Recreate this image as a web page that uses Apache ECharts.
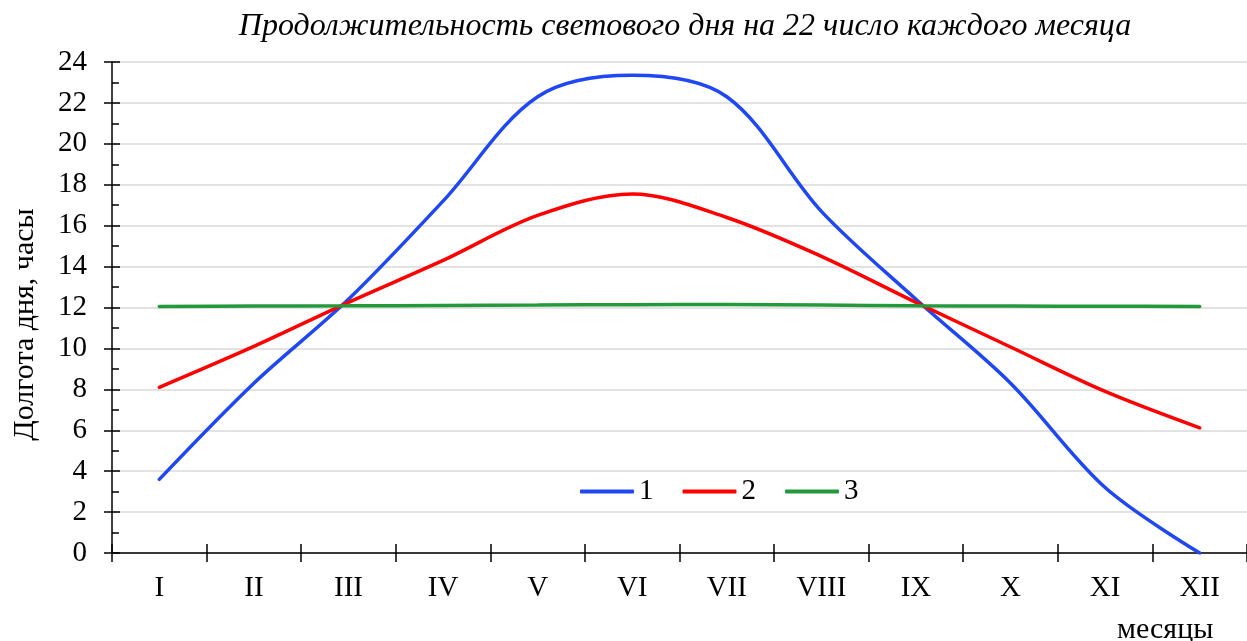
<!DOCTYPE html>
<html>
<head>
<meta charset="utf-8">
<script src="https://cdn.jsdelivr.net/npm/echarts@6/dist/echarts.min.js"></script>
<style>
  html, body { margin: 0; padding: 0; background: #fff; }
  #chart { width: 1247px; height: 641px; }
</style>
</head>
<body>
<div id="chart"></div>
<script>
const months = ['I', 'II', 'III', 'IV', 'V', 'VI', 'VII', 'VIII', 'IX', 'X', 'XI', 'XII'];
const line1 = [3.6, 8.3, 12.4, 17.2, 22.3, 23.35, 22.3, 16.7, 12.4, 8.3, 3.2, 0];
const line2 = [8.1, 10.1, 12.25, 14.3, 16.5, 17.55, 16.4, 14.5, 12.25, 10.07, 7.9, 6.12];
const line3 = [12.05, 12.07, 12.08, 12.1, 12.12, 12.14, 12.15, 12.12, 12.08, 12.07, 12.06, 12.05];
const seriesNames = ['1', '2', '3'];

const FONT = 'Liberation Serif';
const colors = ['#1f48f4', '#ff0000', '#24993c'];

const chart = echarts.init(document.getElementById('chart'));

const makeLine = (name, data, color) => ({
  name,
  type: 'line',
  data,
  smooth: 0.33,
  symbol: 'none',
  lineStyle: { color, width: 3.5, cap: 'round' },
  itemStyle: { color },
  xAxisIndex: 0,
  yAxisIndex: 0
});

const option = {
  animation: false,
  backgroundColor: '#fff',
  title: {
    text: 'Продолжительность светового дня на 22 число каждого месяца',
    left: 680,
    textAlign: 'center',
    top: 6,
    textStyle: { fontFamily: FONT, fontStyle: 'italic', fontWeight: 'normal', fontSize: 32, color: '#000' }
  },
  legend: {
    data: seriesNames,
    left: 575,
    top: 472,
    icon: 'roundRect',
    itemWidth: 54,
    itemHeight: 4,
    itemGap: 29,
    textStyle: { fontFamily: FONT, fontSize: 29, color: '#000' }
  },
  grid: { left: 112, right: 0, top: 62, bottom: 88 },
  xAxis: [
    {
      type: 'category',
      data: months,
      boundaryGap: true,
      position: 'bottom',
      axisLine: { lineStyle: { color: '#000', width: 1.5 } },
      axisTick: { show: true, length: 9, inside: false, lineStyle: { color: '#000', width: 1.5 } },
      axisLabel: { fontFamily: FONT, fontSize: 29, color: '#000', margin: 21 },
      splitLine: { show: false }
    },
    {
      // second copy only for the inner half of the crossing ticks
      type: 'category',
      data: months,
      boundaryGap: true,
      position: 'bottom',
      offset: 0,
      axisLine: { show: false },
      axisTick: { show: true, length: 9, inside: true, lineStyle: { color: '#000', width: 1.5 } },
      axisLabel: { show: false },
      splitLine: { show: false }
    }
  ],
  yAxis: [
    {
      type: 'value',
      min: 0,
      max: 24,
      interval: 2,
      name: 'Долгота дня, часы',
      nameLocation: 'middle',
      nameGap: 72,
      nameRotate: 90,
      nameTextStyle: { fontFamily: FONT, fontSize: 30, color: '#000', padding: [0, 0, 0, -34] },
      axisLine: { show: true, lineStyle: { color: '#000', width: 1.5 } },
      axisTick: { show: true, length: 8, inside: false, lineStyle: { color: '#000', width: 1.5 } },
      axisLabel: { fontFamily: FONT, fontSize: 29, color: '#000', margin: 25 },
      splitLine: { show: true, lineStyle: { color: '#d9d9d9', width: 1.5 } }
    },
    {
      type: 'value',
      min: 0,
      max: 24,
      interval: 2,
      position: 'left',
      offset: 0,
      axisLine: { show: false },
      axisTick: { show: true, length: 8, inside: true, lineStyle: { color: '#000', width: 1.5 } },
      minorTick: { show: true, splitNumber: 2, length: 7, lineStyle: { color: '#000', width: 1.5 } },
      axisLabel: { show: false },
      splitLine: { show: false }
    }
  ],
  graphic: [
    {
      type: 'text',
      left: 1117,
      top: 615,
      style: { text: 'месяцы', fontFamily: FONT, fontSize: 30, fill: '#000' }
    }
  ],
  series: [
    makeLine(seriesNames[0], line1, colors[0]),
    makeLine(seriesNames[1], line2, colors[1]),
    makeLine(seriesNames[2], line3, colors[2])
  ]
};

chart.setOption(option);
</script>
</body>
</html>
